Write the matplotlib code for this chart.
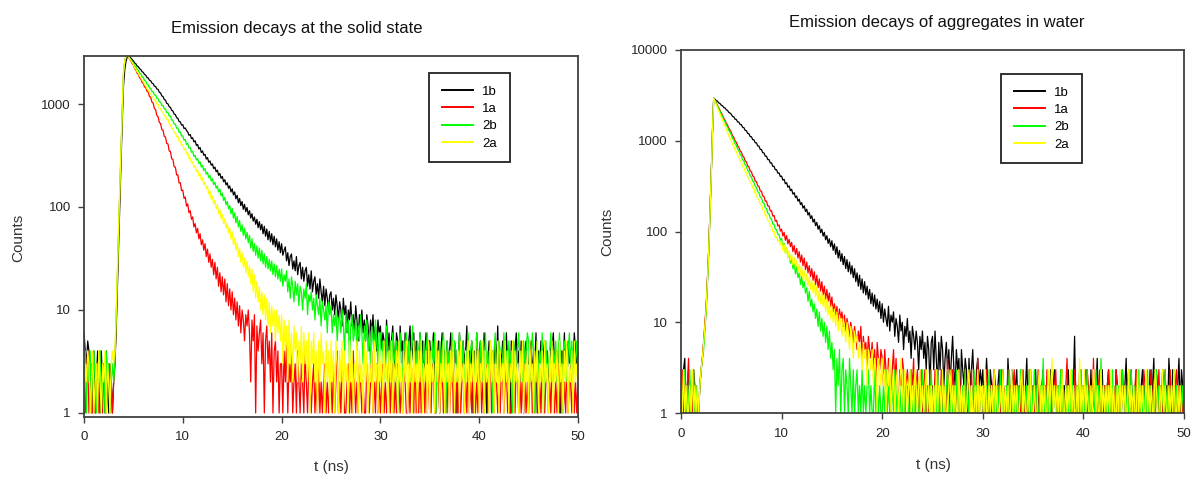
import numpy as np
import matplotlib
matplotlib.use("Agg")
import matplotlib.pyplot as plt
from matplotlib.ticker import FixedLocator, FixedFormatter, NullLocator

plt.rcParams['font.family'] = ['Liberation Sans', 'DejaVu Sans']

# TCSPC histograms, 0.125 ns per channel, 0 - 50 ns (one row = 5 ns)
channel_ns = 0.125
series_labels = ["1b", "1a", "2b", "2a"]
series_colors = ["#000000", "#ff0000", "#00ff00", "#ffff00"]

# ---------------- solid state ----------------
solid_1b = [
    6, 4, 3, 5, 4, 2, 1, 3, 4, 1, 2, 4, 3, 1, 4, 2, 3, 1, 4, 2, 1, 3, 2, 1, 2, 3, 6, 16, 45, 110, 280, 700, 1500, 2150, 2600, 2850, 2960, 2900, 2790, 2700,
    2620, 2505, 2455, 2340, 2305, 2200, 2165, 2060, 2030, 1935, 1905, 1810, 1790, 1700, 1680, 1595, 1575, 1490, 1480, 1400, 1385, 1300, 1280, 1200, 1180, 1105, 1090, 1015, 1002, 940, 928, 866, 855, 798, 790, 735, 728, 676, 670, 624,
    630, 578, 585, 552, 535, 497, 505, 462, 470, 428, 440, 396, 405, 366, 378, 338, 350, 318, 325, 292, 302, 272, 280, 255, 262, 236, 244, 220, 228, 203, 212, 190, 198, 176, 184, 164, 172, 152, 160, 140,
    150, 131, 140, 120, 130, 110, 121, 103, 113, 95, 106, 90, 99, 84, 92, 78, 86, 73, 80, 68, 76, 63, 72, 60, 68, 55, 65, 52, 61, 48, 58, 46, 55, 43, 52, 41, 49, 38, 46, 36,
    44, 34, 38, 41, 30, 36, 27, 33, 35, 25, 30, 24, 33, 22, 27, 29, 20, 26, 19, 24, 26, 17, 22, 16, 24, 15, 19, 21, 14, 18, 13, 20, 15, 12, 17, 11, 16, 13, 10, 14,
    15, 10, 13, 9, 14, 11, 8, 12, 10, 7, 13, 9, 11, 6, 10, 8, 12, 7, 9, 6, 11, 8, 5, 9, 7, 10, 6, 8, 5, 9, 7, 4, 8, 6, 9, 5, 7, 4, 8, 6,
    7, 4, 6, 5, 3, 8, 4, 6, 3, 5, 7, 4, 2, 6, 5, 3, 7, 4, 5, 2, 6, 4, 3, 5, 7, 3, 4, 6, 2, 5, 4, 3, 6, 4, 5, 2, 4, 6, 3, 5,
    5, 3, 4, 6, 2, 4, 3, 5, 1, 4, 6, 3, 4, 2, 5, 3, 4, 6, 3, 2, 5, 4, 1, 3, 6, 4, 2, 5, 3, 4, 7, 2, 4, 3, 5, 1, 4, 3, 6, 2,
    4, 5, 2, 3, 6, 4, 1, 3, 5, 4, 2, 4, 3, 5, 3, 7, 2, 4, 3, 5, 4, 2, 6, 3, 4, 1, 5, 3, 2, 4, 6, 3, 4, 2, 5, 3, 1, 4, 5, 3,
    3, 4, 5, 2, 4, 3, 6, 1, 4, 3, 5, 2, 4, 5, 3, 4, 2, 3, 5, 4, 6, 3, 2, 4, 3, 5, 1, 4, 3, 6, 2, 4, 5, 3, 2, 4, 3, 6, 4, 3,
    3,
]
solid_1a = [
    3, 1, 2, 4, 1, 2, 3, 1, 2, 1, 3, 2, 1, 4, 2, 1, 3, 2, 1, 2, 3, 1, 2, 1, 2, 3, 7, 20, 55, 140, 330, 850, 1900, 2600, 2950, 2920, 2850, 2730, 2600, 2470,
    2380, 2210, 2145, 1990, 1940, 1800, 1755, 1625, 1590, 1468, 1440, 1325, 1305, 1185, 1162, 1045, 1022, 905, 880, 772, 752, 660, 648, 565, 556, 484, 478, 414, 410, 350, 346, 294, 290, 246, 244, 205, 205, 171, 172, 144,
    146, 121, 125, 102, 107, 88, 92, 76, 80, 64, 69, 56, 62, 49, 55, 43, 48, 38, 44, 33, 39, 29, 35, 26, 31, 22, 29, 20, 26, 17, 23, 15, 21, 14, 20, 12, 18, 11, 16, 10,
    15, 9, 13, 8, 12, 7, 11, 6, 10, 8, 5, 9, 7, 10, 6, 2, 8, 5, 9, 1, 7, 4, 6, 8, 3, 6, 1, 5, 7, 3, 5, 2, 6, 1, 4, 5, 2, 4, 1, 3,
    3, 1, 4, 2, 5, 1, 3, 2, 4, 1, 2, 3, 1, 4, 2, 1, 3, 2, 1, 4, 2, 1, 3, 2, 1, 2, 3, 1, 2, 1, 3, 1, 2, 1, 2, 3, 1, 2, 1, 2,
    2, 1, 3, 1, 2, 4, 1, 2, 1, 3, 2, 1, 1, 2, 3, 1, 2, 1, 4, 2, 1, 2, 1, 3, 2, 1, 2, 1, 1, 3, 2, 1, 2, 4, 1, 2, 1, 3, 1, 2,
    1, 2, 3, 1, 2, 1, 2, 4, 1, 2, 3, 1, 2, 1, 3, 2, 1, 2, 1, 3, 2, 1, 1, 2, 1, 3, 2, 1, 4, 1, 2, 1, 3, 1, 2, 2, 1, 3, 1, 2,
    2, 1, 3, 2, 1, 1, 4, 2, 1, 2, 3, 1, 2, 2, 1, 3, 1, 2, 5, 1, 2, 1, 3, 1, 2, 1, 2, 3, 1, 2, 1, 4, 1, 2, 1, 3, 2, 1, 2, 1,
    2, 3, 1, 2, 1, 2, 3, 1, 2, 4, 1, 2, 1, 3, 2, 1, 2, 1, 3, 2, 1, 2, 3, 1, 2, 1, 1, 2, 4, 1, 3, 2, 1, 2, 1, 3, 1, 2, 1, 2,
    1, 2, 4, 1, 2, 1, 3, 2, 1, 2, 1, 3, 2, 1, 2, 4, 1, 2, 1, 3, 2, 1, 2, 1, 3, 1, 2, 4, 1, 2, 1, 3, 1, 2, 2, 1, 3, 1, 2, 1,
    2,
]
solid_2b = [
    2, 4, 1, 3, 2, 4, 1, 3, 4, 2, 1, 3, 2, 4, 1, 2, 3, 1, 4, 2, 3, 1, 2, 3, 2, 3, 8, 22, 60, 150, 360, 900, 2000, 2600, 2900, 2950, 2900, 2790, 2680, 2575,
    2495, 2350, 2305, 2165, 2125, 1995, 1962, 1840, 1812, 1698, 1672, 1562, 1542, 1438, 1420, 1325, 1316, 1225, 1220, 1135, 1130, 1048, 1044, 968, 968, 895, 895, 826, 828, 764, 767, 698, 696, 636, 638, 582, 584, 532, 534, 488,
    492, 445, 452, 405, 414, 372, 378, 340, 347, 310, 318, 286, 295, 264, 274, 244, 254, 226, 236, 208, 217, 193, 202, 179, 188, 165, 174, 152, 160, 140, 149, 128, 136, 116, 124, 105, 113, 96, 103, 86,
    97, 78, 88, 70, 81, 64, 74, 58, 67, 53, 62, 49, 57, 45, 53, 40, 49, 37, 44, 34, 42, 32, 40, 30, 38, 28, 35, 26, 33, 25, 31, 24, 30, 22, 28, 21, 27, 20, 25, 19,
    25, 17, 22, 19, 24, 15, 20, 13, 21, 17, 12, 19, 14, 18, 11, 17, 15, 10, 16, 13, 18, 9, 14, 12, 15, 10, 13, 8, 14, 11, 9, 13, 7, 12, 10, 8, 11, 6, 12, 9,
    11, 6, 9, 7, 10, 5, 8, 9, 6, 10, 7, 4, 9, 6, 8, 3, 7, 9, 5, 6, 8, 4, 7, 5, 9, 6, 3, 7, 5, 8, 4, 6, 3, 7, 5, 4, 8, 5, 3, 6,
    6, 3, 5, 4, 2, 7, 4, 3, 5, 2, 6, 4, 3, 5, 1, 4, 6, 3, 2, 5, 4, 6, 3, 5, 2, 4, 7, 3, 4, 2, 5, 3, 6, 4, 2, 5, 3, 4, 6, 3,
    4, 2, 5, 3, 6, 1, 4, 3, 5, 2, 4, 6, 3, 1, 5, 3, 4, 2, 6, 3, 5, 4, 2, 3, 6, 4, 3, 5, 1, 4, 3, 6, 2, 4, 5, 3, 2, 4, 6, 3,
    3, 5, 2, 4, 1, 6, 3, 4, 2, 5, 3, 1, 4, 6, 2, 3, 5, 4, 2, 3, 6, 3, 4, 2, 5, 3, 4, 1, 5, 3, 2, 4, 6, 3, 4, 2, 5, 3, 4, 6,
    5, 2, 3, 6, 4, 1, 3, 5, 2, 4, 3, 6, 1, 4, 5, 2, 3, 4, 6, 2, 4, 3, 5, 2, 4, 6, 3, 1, 4, 5, 3, 2, 4, 6, 3, 5, 2, 4, 3, 5,
    3,
]
solid_2a = [
    1, 3, 2, 4, 3, 1, 2, 4, 1, 2, 3, 1, 4, 2, 1, 3, 2, 4, 1, 3, 2, 1, 3, 4, 3, 4, 9, 25, 65, 160, 380, 950, 2050, 2600, 2880, 2950, 2880, 2750, 2620, 2500,
    2405, 2255, 2190, 2050, 1995, 1865, 1820, 1700, 1660, 1545, 1510, 1405, 1380, 1288, 1268, 1182, 1168, 1086, 1072, 996, 988, 915, 906, 840, 836, 772, 768, 708, 706, 642, 634, 580, 578, 528, 527, 481, 481, 437, 438, 398,
    402, 360, 368, 328, 336, 296, 300, 268, 275, 242, 252, 221, 229, 201, 210, 182, 192, 165, 175, 150, 159, 134, 142, 119, 128, 107, 116, 96, 105, 86, 95, 77, 85, 69, 77, 62, 70, 56, 63, 49,
    57, 43, 50, 38, 45, 33, 40, 29, 36, 26, 32, 23, 30, 21, 27, 18, 25, 15, 22, 13, 19, 12, 17, 10, 15, 9, 14, 8, 13, 7, 12, 6, 11, 7, 10, 5, 10, 6, 9, 5,
    9, 3, 8, 4, 7, 2, 8, 3, 6, 2, 7, 4, 6, 2, 5, 3, 7, 2, 6, 3, 5, 2, 6, 1, 5, 3, 6, 2, 4, 1, 5, 2, 6, 3, 4, 1, 5, 2, 4, 1,
    5, 2, 4, 1, 5, 3, 1, 4, 2, 5, 1, 4, 2, 3, 1, 5, 2, 4, 1, 3, 2, 5, 1, 4, 2, 3, 1, 5, 2, 4, 1, 3, 2, 4, 1, 5, 2, 3, 1, 4,
    2, 4, 1, 5, 2, 3, 1, 4, 2, 5, 1, 3, 2, 4, 1, 5, 2, 3, 1, 4, 2, 5, 1, 3, 2, 4, 1, 5, 2, 3, 1, 4, 2, 5, 1, 3, 2, 4, 1, 5,
    1, 4, 2, 3, 1, 5, 2, 4, 1, 3, 2, 5, 1, 4, 2, 3, 1, 4, 2, 5, 1, 3, 2, 4, 1, 5, 2, 3, 1, 4, 2, 5, 1, 3, 2, 4, 1, 5, 2, 4,
    1, 3, 2, 5, 1, 4, 2, 3, 1, 5, 2, 4, 1, 3, 2, 5, 1, 4, 2, 3, 1, 5, 2, 4, 1, 3, 2, 5, 1, 4, 2, 3, 1, 4, 2, 5, 1, 3, 2, 4,
    1, 5, 2, 3, 1, 4, 2, 5, 1, 3, 2, 4, 1, 5, 2, 3, 1, 4, 2, 5, 1, 3, 2, 4, 1, 5, 2, 3, 1, 4, 2, 5, 1, 3, 2, 4, 1, 5, 2, 3,
    2,
]

# ---------------- aggregates in water ----------------
water_1b = [
    2, 1, 3, 4, 1, 2, 3, 1, 2, 1, 3, 2, 1, 1, 1, 2, 3, 4, 6, 9, 14, 28, 60, 150, 400, 1200, 2950, 2870, 2770, 2725, 2610, 2575, 2465, 2430, 2325, 2295, 2195, 2160, 2050, 2020,
    1958, 1850, 1835, 1728, 1716, 1615, 1606, 1512, 1505, 1408, 1395, 1300, 1292, 1204, 1196, 1112, 1108, 1030, 1025, 950, 948, 877, 872, 803, 800, 738, 735, 676, 675, 620, 620, 568, 570, 521, 523, 479, 480, 440, 442, 403,
    408, 368, 376, 336, 345, 308, 318, 282, 292, 258, 268, 237, 246, 216, 227, 198, 208, 181, 192, 166, 176, 152, 162, 139, 149, 127, 137, 116, 126, 106, 116, 97, 106, 89, 98, 81, 90, 74, 83, 68,
    79, 62, 73, 56, 68, 51, 62, 47, 57, 43, 53, 39, 49, 36, 46, 34, 42, 31, 39, 28, 35, 25, 33, 23, 30, 21, 28, 20, 25, 18, 23, 16, 21, 15, 20, 14, 18, 13, 17, 11,
    16, 10, 14, 11, 9, 15, 8, 12, 10, 13, 7, 11, 9, 6, 12, 8, 10, 5, 9, 7, 11, 6, 8, 4, 9, 7, 5, 8, 6, 3, 7, 5, 8, 4, 6, 3, 7, 5, 2, 6,
    7, 3, 8, 4, 2, 6, 3, 7, 5, 2, 4, 6, 3, 5, 2, 4, 7, 3, 2, 5, 3, 4, 1, 5, 3, 2, 4, 3, 1, 4, 2, 3, 5, 2, 1, 3, 4, 2, 3, 2,
    3, 1, 2, 4, 2, 1, 3, 2, 1, 3, 2, 1, 2, 3, 1, 2, 3, 1, 2, 1, 4, 2, 1, 3, 2, 1, 2, 3, 1, 2, 1, 3, 2, 1, 2, 4, 1, 2, 3, 1,
    2, 1, 3, 1, 2, 1, 1, 2, 3, 1, 2, 1, 2, 1, 3, 1, 2, 3, 1, 2, 1, 2, 1, 3, 1, 2, 1, 2, 3, 1, 2, 1, 2, 7, 1, 2, 1, 3, 1, 2,
    1, 2, 3, 1, 2, 1, 3, 1, 2, 1, 2, 4, 1, 2, 1, 3, 1, 2, 1, 2, 3, 1, 2, 1, 2, 1, 3, 2, 1, 2, 1, 3, 1, 2, 4, 1, 2, 1, 3, 1,
    2, 1, 3, 1, 2, 1, 2, 3, 1, 2, 1, 2, 1, 3, 1, 2, 4, 1, 3, 2, 1, 2, 1, 3, 2, 1, 2, 1, 4, 2, 1, 3, 1, 2, 1, 2, 4, 1, 3, 2,
    1,
]
water_1a = [
    1, 3, 1, 2, 1, 2, 4, 1, 2, 1, 3, 1, 2, 1, 1, 2, 3, 4, 6, 10, 15, 30, 62, 160, 420, 1250, 2950, 2770, 2590, 2455, 2280, 2165, 2010, 1910, 1770, 1685, 1560, 1490, 1375, 1310,
    1235, 1130, 1090, 995, 962, 878, 850, 774, 750, 681, 662, 600, 585, 528, 517, 465, 455, 410, 402, 360, 355, 318, 314, 280, 278, 246, 244, 216, 216, 191, 191, 168, 169, 148, 150, 130, 133, 115, 118, 101,
    106, 89, 98, 80, 90, 73, 82, 68, 76, 60, 70, 56, 65, 51, 60, 46, 55, 42, 51, 38, 46, 35, 42, 32, 39, 29, 36, 26, 33, 24, 30, 22, 28, 20, 25, 18, 23, 17, 21, 15,
    19, 13, 16, 12, 15, 10, 14, 11, 13, 9, 12, 8, 11, 9, 7, 10, 8, 6, 9, 7, 5, 8, 6, 9, 4, 7, 5, 6, 3, 7, 5, 4, 6, 3, 5, 2, 6, 4, 3, 5,
    4, 2, 5, 3, 2, 4, 3, 1, 3, 5, 2, 4, 2, 1, 3, 2, 4, 3, 1, 2, 3, 2, 1, 3, 2, 4, 1, 2, 3, 1, 2, 3, 1, 2, 3, 1, 2, 1, 3, 2,
    2, 1, 3, 2, 1, 2, 1, 3, 1, 2, 2, 1, 4, 1, 2, 1, 3, 2, 1, 2, 1, 3, 2, 1, 2, 1, 3, 1, 2, 2, 1, 3, 1, 2, 1, 2, 4, 1, 2, 1,
    1, 2, 1, 3, 2, 1, 2, 1, 2, 3, 1, 2, 1, 2, 1, 3, 2, 1, 2, 1, 3, 1, 2, 1, 2, 3, 1, 2, 1, 2, 1, 2, 3, 1, 2, 1, 1, 3, 2, 1,
    2, 1, 2, 1, 3, 1, 2, 2, 1, 2, 1, 3, 1, 2, 1, 2, 1, 2, 3, 1, 2, 1, 3, 1, 2, 1, 2, 4, 1, 2, 1, 2, 1, 3, 2, 1, 2, 1, 3, 1,
    2, 1, 1, 3, 2, 1, 2, 1, 4, 1, 2, 1, 2, 3, 1, 2, 1, 2, 1, 2, 3, 1, 2, 1, 2, 1, 3, 2, 1, 2, 1, 3, 1, 2, 1, 2, 3, 1, 2, 1,
    1, 2, 3, 1, 2, 1, 2, 1, 3, 2, 1, 2, 1, 2, 3, 1, 2, 1, 2, 1, 3, 1, 2, 1, 2, 3, 1, 2, 1, 3, 1, 2, 1, 2, 3, 1, 2, 1, 2, 1,
    2,
]
water_2b = [
    3, 1, 2, 3, 1, 2, 1, 3, 1, 2, 3, 1, 2, 1, 1, 2, 3, 4, 5, 8, 13, 26, 55, 145, 380, 1200, 2950, 2760, 2570, 2425, 2240, 2125, 1955, 1860, 1710, 1625, 1490, 1422, 1305, 1245,
    1165, 1062, 1020, 928, 892, 810, 782, 708, 684, 618, 598, 540, 523, 472, 458, 412, 400, 360, 350, 314, 306, 274, 268, 240, 235, 209, 206, 183, 179, 159, 157, 139, 138, 121, 120, 106, 105, 93, 93, 80,
    84, 69, 74, 59, 66, 52, 58, 45, 51, 39, 45, 34, 41, 31, 35, 26, 32, 24, 28, 21, 24, 17, 22, 15, 18, 13, 16, 11, 14, 9, 13, 8, 11, 7, 10, 6, 9, 5, 8, 4,
    6, 3, 5, 1, 4, 2, 5, 1, 3, 4, 1, 3, 2, 1, 4, 2, 1, 3, 1, 2, 3, 1, 2, 1, 3, 1, 2, 1, 2, 3, 1, 2, 1, 1, 3, 1, 2, 1, 2, 1,
    1, 2, 1, 3, 1, 2, 1, 1, 2, 1, 3, 1, 2, 1, 2, 1, 1, 3, 1, 2, 2, 1, 1, 3, 1, 2, 1, 2, 1, 1, 2, 1, 3, 1, 1, 2, 1, 2, 1, 3,
    1, 1, 2, 1, 3, 1, 2, 1, 1, 2, 1, 2, 3, 1, 1, 2, 1, 2, 1, 3, 1, 2, 1, 1, 2, 1, 3, 1, 2, 1, 1, 2, 1, 3, 1, 2, 1, 1, 2, 1,
    2, 1, 1, 2, 1, 3, 1, 2, 1, 1, 2, 1, 2, 1, 3, 1, 2, 1, 1, 2, 1, 3, 1, 2, 1, 1, 2, 1, 2, 1, 3, 1, 1, 2, 1, 2, 1, 3, 1, 2,
    1, 3, 1, 2, 1, 1, 2, 1, 4, 1, 2, 1, 1, 2, 1, 3, 1, 2, 1, 1, 2, 1, 3, 1, 2, 1, 1, 2, 1, 2, 1, 3, 1, 1, 2, 1, 2, 1, 3, 1,
    2, 1, 1, 3, 1, 2, 1, 1, 2, 1, 3, 1, 2, 1, 4, 1, 2, 1, 1, 2, 1, 2, 1, 3, 1, 1, 2, 1, 2, 1, 1, 3, 1, 2, 1, 2, 1, 1, 3, 1,
    1, 2, 1, 1, 3, 1, 2, 1, 2, 1, 1, 3, 1, 2, 1, 1, 2, 1, 3, 1, 2, 1, 1, 2, 1, 3, 1, 2, 1, 1, 2, 1, 3, 1, 2, 1, 1, 2, 1, 2,
    1,
]
water_2a = [
    2, 1, 3, 1, 2, 1, 1, 2, 1, 3, 1, 2, 1, 2, 1, 2, 3, 4, 6, 9, 14, 28, 58, 150, 390, 1220, 2950, 2725, 2505, 2340, 2135, 1998, 1820, 1712, 1550, 1460, 1322, 1248, 1130, 1065,
    998, 905, 872, 790, 762, 688, 665, 600, 582, 522, 508, 455, 444, 396, 388, 346, 338, 302, 296, 262, 258, 228, 225, 198, 197, 174, 172, 151, 150, 132, 131, 115, 115, 100, 100, 87, 88, 78, 80, 71,
    78, 62, 72, 57, 66, 52, 61, 48, 56, 43, 52, 40, 48, 36, 44, 33, 41, 30, 37, 28, 34, 25, 32, 23, 29, 21, 27, 19, 25, 17, 23, 16, 21, 15, 20, 13, 18, 12, 17, 11,
    15, 10, 14, 9, 13, 8, 12, 10, 7, 11, 9, 6, 10, 8, 5, 9, 7, 4, 8, 6, 7, 4, 6, 5, 3, 6, 4, 5, 2, 5, 4, 3, 5, 2, 4, 3, 1, 4, 3, 2,
    4, 2, 3, 1, 3, 2, 4, 1, 2, 3, 1, 2, 3, 1, 2, 4, 2, 1, 3, 2, 1, 2, 3, 1, 2, 1, 3, 2, 1, 2, 3, 1, 2, 1, 2, 3, 1, 2, 1, 2,
    1, 2, 1, 3, 1, 2, 2, 1, 3, 1, 2, 1, 1, 2, 3, 1, 2, 1, 2, 1, 1, 3, 1, 2, 1, 2, 1, 1, 2, 3, 1, 2, 1, 1, 2, 1, 3, 1, 2, 1,
    2, 1, 3, 1, 1, 2, 1, 2, 1, 3, 1, 2, 1, 1, 2, 1, 3, 1, 2, 1, 2, 1, 1, 3, 1, 2, 1, 2, 1, 1, 2, 3, 1, 2, 1, 1, 2, 1, 3, 1,
    1, 2, 1, 1, 2, 3, 1, 2, 1, 2, 1, 1, 3, 1, 2, 4, 1, 2, 1, 2, 1, 2, 1, 3, 1, 1, 2, 1, 2, 1, 3, 1, 2, 1, 1, 2, 1, 4, 1, 2,
    1, 3, 1, 2, 1, 1, 2, 1, 3, 2, 1, 2, 1, 1, 3, 1, 2, 1, 2, 1, 2, 1, 3, 1, 2, 1, 1, 2, 1, 3, 1, 2, 1, 2, 1, 1, 3, 1, 2, 1,
    2, 1, 1, 3, 1, 2, 1, 2, 1, 1, 3, 1, 2, 1, 2, 1, 1, 3, 2, 1, 1, 2, 1, 3, 1, 2, 1, 1, 2, 1, 2, 1, 3, 1, 1, 2, 1, 2, 1, 1,
    1,
]

solid_ticks = [1, 10, 100, 1000]
water_ticks = [1, 10, 100, 1000, 10000]
x_ticks = [0, 10, 20, 30, 40, 50]

W, H = 1195, 478
fig = plt.figure(figsize=(W / 100, H / 100), dpi=100)


def px_axes(x0, y0, x1, y1):
    return fig.add_axes([x0 / W, 1 - y1 / H, (x1 - x0) / W, (y1 - y0) / H])


def style(ax, ylim, yticks):
    ax.set_yscale("log")
    ax.set_xlim(0, 50)
    ax.set_ylim(*ylim)
    ax.xaxis.set_major_locator(FixedLocator(x_ticks))
    ax.xaxis.set_major_formatter(FixedFormatter([str(v) for v in x_ticks]))
    ax.yaxis.set_major_locator(FixedLocator(yticks))
    ax.yaxis.set_major_formatter(FixedFormatter([str(v) for v in yticks]))
    ax.yaxis.set_minor_locator(NullLocator())
    ax.xaxis.set_minor_locator(NullLocator())
    ax.tick_params(direction="out", length=4.5, width=1.0, color="#404040",
                   labelsize=9.5, labelcolor="#262626")
    ax.tick_params(axis="x", pad=6)
    ax.tick_params(axis="y", pad=5)
    for s in ax.spines.values():
        s.set_color("#404040")
        s.set_linewidth(1.3)


def draw(ax, data):
    handles = []
    for vals, lab, col in zip(data, series_labels, series_colors):
        t = np.arange(len(vals)) * channel_ns
        h, = ax.plot(t, vals, color=col, lw=0.9, label=lab)
        handles.append(h)
    return handles


ax1 = px_axes(84, 56, 578, 416.7)
h1 = draw(ax1, [solid_1b, solid_1a, solid_2b, solid_2a])
style(ax1, (0.92, 2925), solid_ticks)

ax2 = px_axes(681, 50, 1184, 413)
h2 = draw(ax2, [water_1b, water_1a, water_2b, water_2a])
style(ax2, (1, 10000), water_ticks)

for ax, hs, (lx, ly) in ((ax1, h1, (429, 73)), (ax2, h2, (1001, 74))):
    leg = ax.legend(hs, series_labels, loc="upper left",
                    bbox_to_anchor=(lx / W, 1 - ly / H), bbox_transform=fig.transFigure,
                    frameon=True, fancybox=False, framealpha=1, edgecolor="#222222",
                    fontsize=9.5, handlelength=2.4, handletextpad=0.7,
                    labelspacing=0.38, borderpad=0.95, borderaxespad=0)
    leg.get_frame().set_linewidth(1.3)
    for line in leg.get_lines():
        line.set_linewidth(1.4)

fig.text(297 / W, 1 - 28 / H, "Emission decays at the solid state",
         ha="center", va="center", fontsize=12, color="#111111")
fig.text(937 / W, 1 - 22 / H, "Emission decays of aggregates in water",
         ha="center", va="center", fontsize=12, color="#111111")
fig.text(331 / W, 1 - 467 / H, "t (ns)", ha="center", va="center", fontsize=11, color="#333333")
fig.text(933 / W, 1 - 465 / H, "t (ns)", ha="center", va="center", fontsize=11, color="#333333")
fig.text(18 / W, 1 - 238 / H, "Counts", ha="center", va="center", rotation=90,
         fontsize=11, color="#333333")
fig.text(607 / W, 1 - 232 / H, "Counts", ha="center", va="center", rotation=90,
         fontsize=11, color="#333333")

fig.savefig("out.png", dpi=100)
